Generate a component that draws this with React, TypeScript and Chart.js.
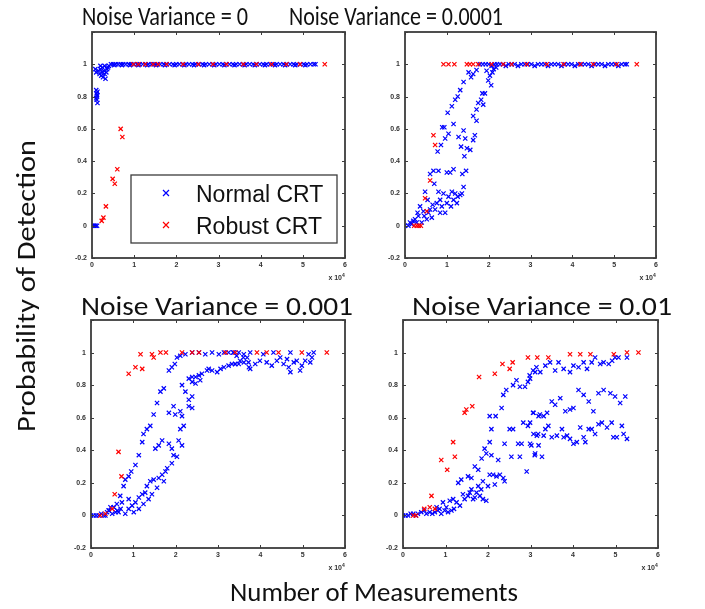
import React, { useEffect, useRef } from 'react';
import { Chart, registerables } from 'chart.js';

Chart.register(...registerables);

type Pt = [number, number];

const xTicks = [0, 1, 2, 3, 4, 5, 6];
const xTickLabels = ['0', '1', '2', '3', '4', '5', '6'];
const yTicks = [-0.2, 0, 0.2, 0.4, 0.6, 0.8, 1, 1.2];
const yTickLabels = ['-0.2', '0', '0.2', '0.4', '0.6', '0.8', '1', ''];
const seriesNames = ['Normal CRT', 'Robust CRT'];
const panelTitles = ['Noise Variance = 0', 'Noise Variance = 0.0001', 'Noise Variance = 0.001', 'Noise Variance = 0.01'];
const xAxisTitle = 'Number of Measurements';
const yAxisTitle = 'Probability of Detection';
const exponentLabel = 'x 10';
const exponentPower = '4';

// ---------- Noise Variance = 0 ----------
const p1Normal: Pt[] = [
  [0, 0], [0.03, 0], [0.06, 0], [0.09, 0], [0.12, 0],
  [0.10, 0.84], [0.11, 0.82], [0.12, 0.80], [0.11, 0.78], [0.13, 0.76], [0.12, 0.81], [0.10, 0.79], [0.13, 0.83],
  [0.08, 0.97], [0.10, 0.95], [0.15, 0.96], [0.18, 0.94], [0.20, 0.97], [0.22, 0.93], [0.24, 0.95], [0.26, 0.92],
  [0.28, 0.96], [0.30, 0.94], [0.32, 0.91], [0.34, 0.95], [0.36, 0.97], [0.38, 0.98], [0.25, 0.98], [0.30, 0.99], [0.20, 0.99],
  [0.40, 0.99], [0.45, 1], [0.50, 1], [0.56, 1], [0.62, 1], [0.68, 1], [0.74, 1], [0.80, 1], [0.87, 1], [0.93, 1],
  [1.00, 1], [1.07, 1], [1.13, 1], [1.20, 1], [1.27, 1], [1.34, 1], [1.41, 1], [1.48, 1], [1.55, 1], [1.62, 1],
  [1.70, 1], [1.77, 1], [1.84, 1], [1.92, 1], [2.00, 1], [2.07, 1], [2.15, 1], [2.23, 1], [2.30, 1], [2.38, 1],
  [2.46, 1], [2.54, 1], [2.62, 1], [2.70, 1], [2.78, 1], [2.86, 1], [2.94, 1], [3.02, 1], [3.10, 1], [3.18, 1],
  [3.26, 1], [3.34, 1], [3.42, 1], [3.50, 1], [3.58, 1], [3.66, 1], [3.74, 1], [3.82, 1], [3.90, 1], [3.98, 1],
  [4.06, 1], [4.14, 1], [4.22, 1], [4.30, 1], [4.38, 1], [4.46, 1], [4.54, 1], [4.62, 1], [4.70, 1], [4.78, 1],
  [4.86, 1], [4.94, 1], [5.02, 1], [5.10, 1], [5.18, 1], [5.26, 1], [5.30, 1],
  [0.53, 0.995], [0.71, 0.995], [0.90, 0.995], [1.10, 0.995], [1.31, 0.995], [1.52, 0.995], [1.73, 0.995],
  [1.96, 0.995], [2.19, 0.995], [2.42, 0.995], [2.66, 0.995], [2.90, 0.995], [3.14, 0.995], [3.38, 0.995],
  [3.62, 0.995], [3.86, 0.995], [4.10, 0.995], [4.34, 0.995], [4.58, 0.995], [4.82, 0.995], [5.06, 0.995],
];
const p1Robust: Pt[] = [
  [0.23, 0.03], [0.27, 0.05], [0.33, 0.12], [0.49, 0.29], [0.54, 0.26], [0.60, 0.35], [0.68, 0.60], [0.72, 0.55],
  [0.98, 1], [1.10, 1], [1.26, 1], [1.45, 1], [1.57, 1], [1.77, 1], [2.16, 1], [2.52, 1], [2.87, 1], [3.19, 1],
  [3.59, 1], [3.90, 1], [4.26, 1], [4.61, 1], [4.93, 1], [5.52, 1],
];

// ---------- Noise Variance = 0.0001 ----------
const p2Normal: Pt[] = [
  [0, 0], [0.08, 0], [0.16, 0.01], [0.24, 0.04], [0.32, 0.06], [0.40, 0.02], [0.36, 0.12], [0.44, 0.09], [0.52, 0.04],
  [0.56, 0.08], [0.64, 0.05], [0.72, 0.10], [0.84, 0.08], [0.96, 0.08], [0.48, 0.21], [0.54, 0.16], [0.76, 0.14],
  [0.88, 0.12], [1.00, 0.14], [0.80, 0.21], [0.92, 0.20], [1.04, 0.18], [1.12, 0.21], [1.20, 0.20], [1.26, 0.18],
  [1.32, 0.19], [1.24, 0.14], [0.70, 0.26], [0.60, 0.32], [0.68, 0.34], [0.80, 0.34], [1.00, 0.33], [1.08, 0.33],
  [1.16, 0.35], [1.36, 0.20], [1.40, 0.24], [1.37, 0.32], [1.46, 0.34], [1.42, 0.43], [1.34, 0.49], [1.48, 0.48],
  [1.56, 0.47], [1.44, 0.54], [1.28, 0.55], [1.40, 0.59], [1.63, 0.53], [1.67, 0.56], [0.78, 0.46], [0.86, 0.50],
  [0.96, 0.54], [1.04, 0.57], [0.89, 0.61], [0.94, 0.61], [1.16, 0.63], [1.02, 0.70], [1.12, 0.74], [1.20, 0.78],
  [1.26, 0.80], [1.32, 0.84], [1.40, 0.89], [1.52, 0.95], [1.58, 0.92], [1.63, 0.94], [1.71, 0.965], [1.71, 0.65],
  [1.63, 0.68], [1.71, 0.72], [1.75, 0.76], [1.87, 0.75], [1.82, 0.78], [1.85, 0.82], [1.91, 0.82], [2.06, 0.87],
  [1.99, 0.90], [2.03, 0.93], [2.09, 0.95], [1.95, 0.96], [2.12, 0.97], [2.18, 0.98],
  [0.12, 0.02], [0.20, 0.03], [0.28, 0.02], [0.30, 0.08], [0.46, 0.06], [0.60, 0.10], [0.66, 0.13], [0.84, 0.16],
  [1.10, 0.12], [1.16, 0.16],
  [1.79, 1], [1.86, 1], [1.93, 1], [2.00, 1], [2.07, 0.99], [2.14, 1], [2.20, 1], [2.27, 1], [2.34, 1], [2.41, 0.99],
  [2.48, 1], [2.55, 1], [2.62, 1], [2.70, 0.99], [2.78, 1], [2.86, 1], [2.94, 1], [3.02, 1], [3.10, 0.99], [3.18, 1],
  [3.26, 1], [3.34, 1], [3.42, 0.99], [3.50, 1], [3.58, 1], [3.66, 1], [3.74, 0.99], [3.82, 1], [3.90, 1], [3.98, 1],
  [4.06, 0.99], [4.14, 1], [4.22, 1], [4.30, 1], [4.38, 1], [4.46, 0.99], [4.54, 1], [4.62, 1], [4.70, 1], [4.78, 0.99],
  [4.86, 1], [4.94, 1], [5.02, 1], [5.10, 0.99], [5.18, 1], [5.26, 1], [5.30, 1],
];
const p2Robust: Pt[] = [
  [0.22, 0], [0.28, 0], [0.33, 0], [0.38, 0], [0.48, 0.17], [0.52, 0.09], [0.60, 0.28], [0.68, 0.56], [0.72, 0.50],
  [0.92, 1], [1.04, 1], [1.18, 1], [1.48, 1], [1.55, 1], [1.63, 1], [1.75, 1], [2.07, 1], [2.35, 1], [2.55, 1],
  [2.91, 1], [3.39, 1], [3.79, 1], [4.19, 1], [4.50, 1], [5.06, 1], [5.54, 1],
];

// ---------- Noise Variance = 0.001 ----------
const p3Normal: Pt[] = [
  [0, 0], [0.06, 0], [0.12, 0], [0.18, 0], [0.24, 0.01], [0.30, 0], [0.34, 0], [0.38, 0.02], [0.42, 0.03], [0.46, 0.05],
  [0.50, 0.01], [0.54, 0.05], [0.58, 0.02], [0.62, 0.03], [0.65, 0.02], [0.70, 0.04], [0.73, 0.08], [0.81, 0.01],
  [0.89, 0.10], [0.89, 0.04],
  [2.03, 0.97], [2.11, 0.98], [2.23, 0.99], [2.39, 1], [2.55, 1], [2.70, 0.99], [2.86, 1], [3.02, 0.99], [3.14, 1],
  [3.25, 1], [3.37, 1], [3.49, 1], [3.61, 0.99], [3.69, 0.97], [3.73, 0.91], [3.61, 0.94], [3.49, 0.93], [3.41, 0.93],
  [1.84, 0.89], [1.91, 0.91], [1.98, 0.93], [2.31, 0.84], [2.39, 0.85], [2.47, 0.85], [2.55, 0.86], [2.62, 0.87],
  [2.74, 0.89], [2.78, 0.90], [2.86, 0.89], [2.98, 0.88], [3.06, 0.90], [3.14, 0.91], [3.25, 0.92], [3.33, 0.93],
  [2.39, 0.82], [2.47, 0.81], [2.58, 0.83],
  [1.72, 0.78], [1.64, 0.76], [1.56, 0.69], [1.48, 0.62], [1.40, 0.55], [1.32, 0.53], [1.24, 0.50], [1.21, 0.45],
  [1.13, 0.37], [1.05, 0.31], [0.95, 0.27], [0.89, 0.24], [0.81, 0.22], [0.77, 0.18], [0.69, 0.12], [0.61, 0.07],
  [2.15, 0.80], [2.23, 0.76], [2.39, 0.73], [2.31, 0.71], [1.95, 0.67], [1.84, 0.63], [1.99, 0.62], [2.11, 0.64],
  [2.15, 0.61], [2.19, 0.55], [2.11, 0.53], [2.07, 0.46], [1.91, 0.41], [1.84, 0.44], [1.68, 0.46], [1.60, 0.43],
  [1.52, 0.41], [1.95, 0.37], [2.03, 0.36], [1.91, 0.32], [1.76, 0.27], [1.68, 0.25], [1.60, 0.23], [1.48, 0.22],
  [1.40, 0.21], [1.32, 0.18], [1.28, 0.14], [1.21, 0.13], [1.13, 0.11], [1.05, 0.08], [0.97, 0.06],
  [2.31, 0.67], [2.39, 0.66], [2.15, 0.43], [1.80, 0.29], [1.72, 0.21], [1.56, 0.17], [1.44, 0.13], [1.36, 0.10],
  [1.24, 0.07], [1.13, 0.04], [1.01, 0.02], [0.42, 0.03], [0.54, 0.05],
  [3.36, 1], [3.44, 0.98], [3.52, 0.95], [3.40, 0.93], [3.60, 0.97], [3.72, 0.94], [3.76, 0.90], [3.88, 0.93],
  [3.99, 0.95], [4.07, 0.99], [4.15, 0.94], [4.27, 0.92], [4.39, 0.95], [4.47, 0.97], [4.55, 0.93], [4.63, 0.96],
  [4.67, 0.91], [4.71, 0.88], [4.79, 0.94], [4.86, 0.95], [4.94, 0.89], [4.98, 0.92], [5.06, 0.95], [5.14, 0.99],
  [5.18, 0.94], [5.26, 1], [5.22, 0.97], [4.71, 1], [4.31, 1], [3.76, 1],
];
const p3Robust: Pt[] = [
  [0.22, 0], [0.34, 0.01], [0.50, 0.04], [0.56, 0.13], [0.65, 0.39], [0.72, 0.24], [0.89, 0.87], [1.05, 0.91],
  [1.21, 0.90], [1.17, 0.99], [1.44, 0.99], [1.48, 0.97], [1.64, 1], [1.77, 1], [2.15, 1], [2.39, 1], [2.55, 1],
  [3.18, 1], [3.41, 1], [3.92, 1], [4.15, 1], [4.43, 1], [4.98, 1], [5.57, 1],
];

// ---------- Noise Variance = 0.01 ----------
const p4Normal: Pt[] = [
  [0, 0], [0.12, 0], [0.24, 0.01], [0.35, 0.01], [0.43, 0.02], [0.55, 0.01], [0.63, 0.02], [0.75, 0.02], [0.82, 0.03],
  [0.90, 0.01], [0.98, 0.03], [1.06, 0.02], [1.14, 0.03], [0.79, 0.05], [0.94, 0.08], [1.10, 0.09], [1.18, 0.10],
  [1.26, 0.08], [1.30, 0.20], [1.37, 0.22], [1.45, 0.10], [1.53, 0.12], [1.57, 0.14], [1.65, 0.10], [1.69, 0.11],
  [1.73, 0.14], [1.81, 0.12], [1.88, 0.10], [1.96, 0.09], [1.53, 0.24], [1.61, 0.23], [1.69, 0.30], [1.77, 0.28],
  [1.85, 0.35], [1.92, 0.41], [1.88, 0.21], [2.00, 0.18], [2.04, 0.25], [2.12, 0.25], [2.20, 0.24], [2.28, 0.25],
  [2.36, 0.23], [2.39, 0.21], [1.96, 0.38], [2.08, 0.37], [2.24, 0.34], [2.04, 0.45], [2.08, 0.53], [2.18, 0.61],
  [2.04, 0.61], [2.32, 0.66], [2.36, 0.74], [2.43, 0.77], [2.51, 0.53], [2.59, 0.53], [2.39, 0.44], [2.55, 0.36],
  [2.75, 0.36], [2.59, 0.80], [2.67, 0.83], [2.75, 0.79], [2.87, 0.79], [2.94, 0.82], [2.98, 0.86], [3.06, 0.89],
  [3.14, 0.91], [2.83, 0.57], [2.94, 0.55], [3.06, 0.63], [2.71, 0.44], [2.79, 0.44], [2.91, 0.27], [3.02, 0.43],
  [3.10, 0.37], [3.18, 0.50], [3.22, 0.62],
  [0.06, 0], [0.18, 0.01], [0.30, 0], [0.50, 0.03], [0.69, 0.01], [0.86, 0.04], [1.02, 0.05], [1.20, 0.04],
  [1.34, 0.06], [1.41, 0.13], [1.61, 0.16], [1.77, 0.18], [1.84, 0.16], [2.16, 0.19],
  [2.99, 0.84], [3.11, 0.88], [3.23, 0.88], [3.35, 0.92], [3.46, 0.94], [3.58, 0.89], [3.66, 0.94], [3.78, 0.90],
  [3.93, 0.88], [4.01, 0.92], [4.13, 0.91], [4.25, 0.94], [4.33, 0.90], [4.44, 0.94], [4.52, 0.97], [4.64, 0.93],
  [4.72, 0.94], [4.84, 0.93], [4.92, 0.95], [4.99, 0.97], [5.07, 0.97], [5.27, 0.97],
  [4.13, 0.77], [4.25, 0.74], [4.37, 0.70], [4.60, 0.75], [4.72, 0.77], [4.88, 0.75], [4.99, 0.73], [5.11, 0.69],
  [5.23, 0.73], [3.50, 0.70], [3.58, 0.68], [3.70, 0.72], [3.82, 0.64], [3.93, 0.65], [4.01, 0.66], [4.48, 0.64],
  [3.07, 0.63], [3.19, 0.61], [3.31, 0.61], [3.39, 0.63], [2.99, 0.57],
  [3.07, 0.50], [3.15, 0.49], [3.31, 0.49], [3.35, 0.53], [3.42, 0.55], [3.50, 0.48], [3.62, 0.49], [3.74, 0.53],
  [3.78, 0.48], [3.86, 0.49], [3.93, 0.47], [4.01, 0.44], [4.09, 0.45], [4.17, 0.54], [4.25, 0.48], [4.29, 0.45],
  [4.37, 0.53], [4.44, 0.53], [4.52, 0.50], [4.60, 0.56], [4.68, 0.57], [4.80, 0.54], [4.91, 0.57], [4.95, 0.48],
  [5.03, 0.48], [5.15, 0.55], [5.19, 0.50], [5.27, 0.47], [2.99, 0.44], [3.11, 0.38], [3.27, 0.36], [3.19, 0.43],
];
const p4Robust: Pt[] = [
  [0.24, 0], [0.31, 0], [0.50, 0.04], [0.63, 0.05], [0.75, 0.04], [0.67, 0.12], [0.90, 0.34], [1.04, 0.28],
  [1.18, 0.45], [1.22, 0.36], [1.45, 0.63], [1.49, 0.65], [1.63, 0.67], [1.79, 0.85], [2.16, 0.87], [2.34, 0.93],
  [2.51, 0.90], [2.58, 0.94], [2.94, 0.97], [3.16, 0.97], [3.42, 0.97], [3.93, 0.99], [4.17, 0.99], [4.41, 0.99],
  [4.96, 0.99], [5.27, 1], [5.54, 1],
];

const BLUE = '#0000ff';
const RED = '#ff0000';
const FRAME = '#3c3c3c';
const TICK_FONT = '"Liberation Sans", Arial, sans-serif';

type PanelSpec = { normal: Pt[]; robust: Pt[]; l: number; t: number; r: number; b: number; legend: boolean };

const panels: PanelSpec[] = [
  { normal: p1Normal, robust: p1Robust, l: 92, t: 32, r: 345, b: 258, legend: true },
  { normal: p2Normal, robust: p2Robust, l: 405, t: 32, r: 656, b: 258, legend: false },
  { normal: p3Normal, robust: p3Robust, l: 91, t: 320, r: 345, b: 548, legend: false },
  { normal: p4Normal, robust: p4Robust, l: 403, t: 320, r: 658, b: 548, legend: false },
];

const PAD_L = 40, PAD_T = 6, PAD_R = 12, PAD_B = 30;

function drawCross(ctx: CanvasRenderingContext2D, x: number, y: number, h: number) {
  ctx.beginPath();
  ctx.moveTo(x - h, y - h); ctx.lineTo(x + h, y + h);
  ctx.moveTo(x - h, y + h); ctx.lineTo(x + h, y - h);
  ctx.stroke();
}

const framePlugin = {
  id: 'frame',
  afterDraw(chart: any, _args: any, opts: any) {
    const { ctx, chartArea: a, scales } = chart;
    ctx.save();
    ctx.strokeStyle = FRAME;
    ctx.lineWidth = 1.8;
    ctx.strokeRect(a.left, a.top, a.right - a.left, a.bottom - a.top);
    ctx.lineWidth = 1;
    ctx.beginPath();
    for (const v of xTicks) {
      const px = Math.round(scales.x.getPixelForValue(v)) + 0.5;
      ctx.moveTo(px, a.bottom); ctx.lineTo(px, a.bottom - 3);
      ctx.moveTo(px, a.top); ctx.lineTo(px, a.top + 3);
    }
    for (const v of yTicks) {
      const py = Math.round(scales.y.getPixelForValue(v)) + 0.5;
      ctx.moveTo(a.left, py); ctx.lineTo(a.left + 3, py);
      ctx.moveTo(a.right, py); ctx.lineTo(a.right - 3, py);
    }
    ctx.stroke();
    // exponent label
    ctx.fillStyle = '#333';
    ctx.font = `bold 7px ${TICK_FONT}`;
    ctx.textAlign = 'right';
    ctx.textBaseline = 'alphabetic';
    ctx.fillText(exponentLabel, a.right - 3, a.bottom + 22);
    ctx.font = `bold 5px ${TICK_FONT}`;
    ctx.textAlign = 'left';
    ctx.fillText(exponentPower, a.right - 3, a.bottom + 19);
    // legend
    if (opts && opts.legend) {
      const bx = a.left + 39, by = a.top + 143, bw = 206, bh = 68;
      ctx.fillStyle = '#fff';
      ctx.fillRect(bx, by, bw, bh);
      ctx.strokeStyle = FRAME;
      ctx.lineWidth = 1.3;
      ctx.strokeRect(bx, by, bw, bh);
      chart.data.datasets.forEach((ds: any, i: number) => {
        const cy = by + 18 + i * 32;
        ctx.strokeStyle = ds.borderColor;
        ctx.lineWidth = 1.2;
        drawCross(ctx, bx + 35, cy, 3);
        ctx.fillStyle = '#111';
        ctx.font = `23px ${TICK_FONT}`;
        ctx.textAlign = 'left';
        ctx.textBaseline = 'alphabetic';
        ctx.fillText(ds.label, bx + 65, cy + 9);
      });
    }
    ctx.restore();
  },
};

function zeroPad(s: any) {
  s.paddingLeft = 0; s.paddingRight = 0; s.paddingTop = 0; s.paddingBottom = 0;
}

function Panel({ spec }: { spec: PanelSpec }) {
  const ref = useRef<HTMLCanvasElement | null>(null);
  const w = spec.r - spec.l + PAD_L + PAD_R;
  const h = spec.b - spec.t + PAD_T + PAD_B;
  useEffect(() => {
    if (!ref.current) return;
    const mk = (pts: Pt[]) => pts.map(([x, y]) => ({ x, y }));
    const chart = new Chart(ref.current, {
      type: 'scatter',
      data: {
        datasets: [
          { label: seriesNames[0], data: mk(spec.normal), pointStyle: 'crossRot', pointRadius: 3, pointBorderWidth: 1.2,
            borderColor: BLUE, backgroundColor: BLUE, order: 1 },
          { label: seriesNames[1], data: mk(spec.robust), pointStyle: 'crossRot', pointRadius: 3, pointBorderWidth: 1.2,
            borderColor: RED, backgroundColor: RED, order: 0 },
        ],
      },
      options: {
        animation: false,
        responsive: false,
        maintainAspectRatio: false,
        events: [],
        layout: { padding: { left: 0, top: PAD_T, right: PAD_R, bottom: 0 } },
        plugins: { legend: { display: false }, tooltip: { enabled: false }, frame: { legend: spec.legend } } as any,
        scales: {
          x: {
            type: 'linear', min: 0, max: 6,
            afterBuildTicks: (s: any) => { s.ticks = xTicks.map((value) => ({ value })); },
            afterFit: (s: any) => { s.height = PAD_B; zeroPad(s); },
            ticks: { callback: (_v: any, i: number) => xTickLabels[i], font: { size: 7, family: TICK_FONT, weight: 'bold' }, color: '#333', padding: 3, maxRotation: 0, autoSkip: false },
            grid: { display: false, drawTicks: false },
            border: { display: false },
          },
          y: {
            type: 'linear', min: -0.2, max: 1.2,
            afterBuildTicks: (s: any) => { s.ticks = yTicks.map((value) => ({ value })); },
            afterFit: (s: any) => { s.width = PAD_L; zeroPad(s); },
            ticks: { callback: (_v: any, i: number) => yTickLabels[i], font: { size: 7, family: TICK_FONT, weight: 'bold' }, color: '#333', padding: 5, autoSkip: false },
            grid: { display: false, drawTicks: false },
            border: { display: false },
          },
        },
      } as any,
      plugins: [framePlugin as any],
    });
    return () => chart.destroy();
  }, []);
  return (
    <canvas
      ref={ref}
      width={w}
      height={h}
      style={{ position: 'absolute', left: spec.l - PAD_L, top: spec.t - PAD_T, width: w, height: h }}
    />
  );
}

const TITLE_FONT = 'Carlito, "Open Sans", "Noto Sans", sans-serif';

export default function App() {
  return (
    <div style={{ position: 'absolute', left: 0, top: 0, width: 705, height: 609, background: '#fff', overflow: 'hidden' }}>
      {panels.map((p, i) => <Panel key={i} spec={p} />)}
      <svg width={705} height={609} style={{ position: 'absolute', left: 0, top: 0, pointerEvents: 'none' }}>
        <g fill="#111" fontFamily={TITLE_FONT}>
          <text x={82} y={25} fontSize={26} textLength={166} lengthAdjust="spacingAndGlyphs">{panelTitles[0]}</text>
          <text x={289} y={25} fontSize={26} textLength={214} lengthAdjust="spacingAndGlyphs">{panelTitles[1]}</text>
          <text x={81} y={315} fontSize={27} textLength={272} lengthAdjust="spacingAndGlyphs">{panelTitles[2]}</text>
          <text x={412} y={315} fontSize={27} textLength={260} lengthAdjust="spacingAndGlyphs">{panelTitles[3]}</text>
          <text x={374} y={601} fontSize={26} textAnchor="middle" textLength={288} lengthAdjust="spacingAndGlyphs">{xAxisTitle}</text>
          <text transform="translate(35,286) rotate(-90)" x={0} y={0} fontSize={26} textAnchor="middle" textLength={292} lengthAdjust="spacingAndGlyphs">{yAxisTitle}</text>
        </g>
      </svg>
    </div>
  );
}
